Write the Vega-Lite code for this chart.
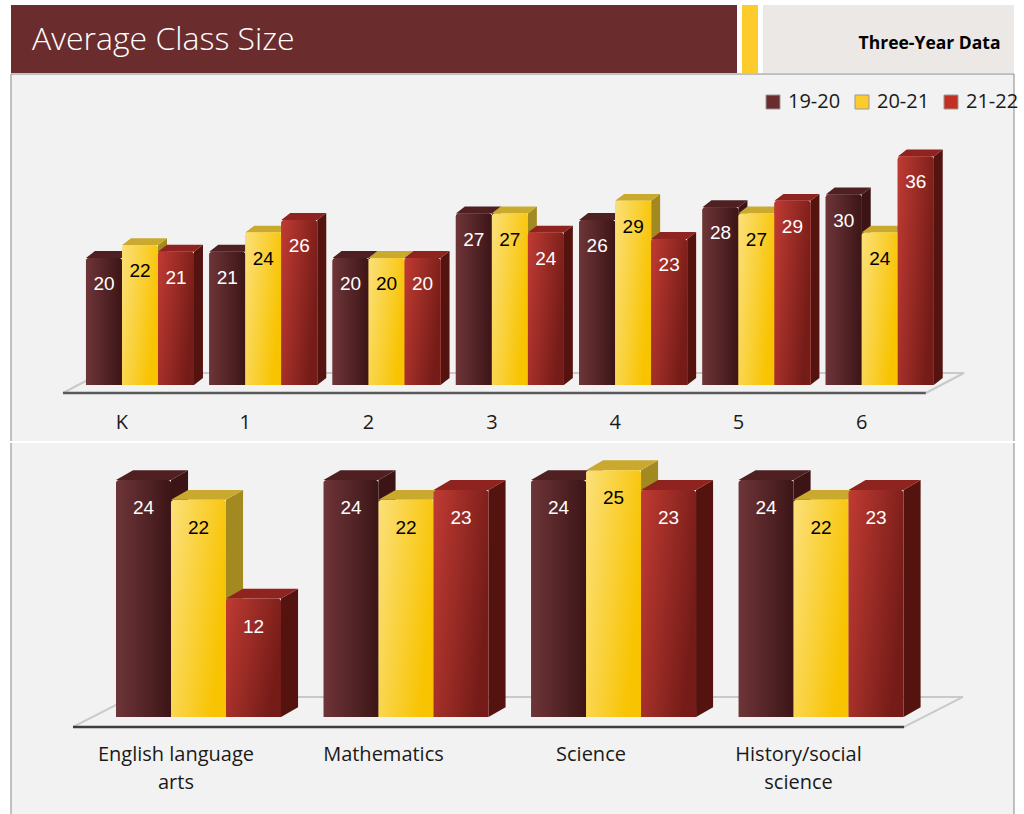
{
  "$schema": "https://vega.github.io/schema/vega-lite/v6.json",
  "background": "#ffffff",
  "padding": {"left": 10, "top": 5, "right": 11, "bottom": 0},
  "spacing": 0,
  "datasets": {
    "grades": [
      {"grade": "K", "year": "19-20", "value": 20}, {"grade": "K", "year": "20-21", "value": 22}, {"grade": "K", "year": "21-22", "value": 21},
      {"grade": "1", "year": "19-20", "value": 21}, {"grade": "1", "year": "20-21", "value": 24}, {"grade": "1", "year": "21-22", "value": 26},
      {"grade": "2", "year": "19-20", "value": 20}, {"grade": "2", "year": "20-21", "value": 20}, {"grade": "2", "year": "21-22", "value": 20},
      {"grade": "3", "year": "19-20", "value": 27}, {"grade": "3", "year": "20-21", "value": 27}, {"grade": "3", "year": "21-22", "value": 24},
      {"grade": "4", "year": "19-20", "value": 26}, {"grade": "4", "year": "20-21", "value": 29}, {"grade": "4", "year": "21-22", "value": 23},
      {"grade": "5", "year": "19-20", "value": 28}, {"grade": "5", "year": "20-21", "value": 27}, {"grade": "5", "year": "21-22", "value": 29},
      {"grade": "6", "year": "19-20", "value": 30}, {"grade": "6", "year": "20-21", "value": 24}, {"grade": "6", "year": "21-22", "value": 36}
    ],
    "subjects": [
      {"subject": "English language\narts", "year": "19-20", "value": 24}, {"subject": "English language\narts", "year": "20-21", "value": 22}, {"subject": "English language\narts", "year": "21-22", "value": 12},
      {"subject": "Mathematics", "year": "19-20", "value": 24}, {"subject": "Mathematics", "year": "20-21", "value": 22}, {"subject": "Mathematics", "year": "21-22", "value": 23},
      {"subject": "Science", "year": "19-20", "value": 24}, {"subject": "Science", "year": "20-21", "value": 25}, {"subject": "Science", "year": "21-22", "value": 23},
      {"subject": "History/social\nscience", "year": "19-20", "value": 24}, {"subject": "History/social\nscience", "year": "20-21", "value": 22}, {"subject": "History/social\nscience", "year": "21-22", "value": 23}
    ]
  },
  "vconcat": [
    {
      "hconcat": [
        {
          "width": 726, "height": 68,
          "view": {"fill": "#6b2c2e", "stroke": null},
          "data": {"values": [{"heading": "Average Class Size"}]},
          "mark": {"type": "text", "align": "left", "baseline": "middle", "dx": -342, "dy": 1, "color": "#ffffff", "font": "Open Sans", "fontWeight": 300, "fontSize": 32},
          "encoding": {"text": {"field": "heading"}}
        },
        {
          "width": 16, "height": 68,
          "view": {"fill": "#fdcb2c", "stroke": null},
          "data": {"values": [{"heading": ""}]},
          "mark": {"type": "text"},
          "encoding": {"text": {"field": "heading"}}
        },
        {
          "width": 251, "height": 68,
          "view": {"fill": "#ebe8e5", "stroke": null},
          "data": {"values": [{"heading": "Three-Year Data"}]},
          "mark": {"type": "text", "align": "right", "baseline": "middle", "dx": 112, "dy": 5, "color": "#000000", "font": "Open Sans", "fontWeight": "bold", "fontSize": 17.5},
          "encoding": {"text": {"field": "heading"}}
        }
      ],
      "spacing": 5,
      "bounds": "flush"
    },
    {
      "width": 1003, "height": 367,
      "view": {"fill": "#f2f2f2", "stroke": null},
      "data": {"name": "grades"},
      "transform": [
        {"calculate": "indexof(['K','1','2','3','4','5','6'], datum.grade)", "as": "slot"},
        {"calculate": "indexof(['19-20','20-21','21-22'], datum.year)", "as": "series"},
        {"calculate": "datum.slot * 3.425 + datum.series", "as": "left"},
        {"calculate": "datum.left + 1", "as": "right"},
        {"calculate": "datum.left + 0.5", "as": "centre"},
        {"calculate": "datum.slot * 3.425 + 1", "as": "tick"}
      ],
      "encoding": {
        "x": {"type": "quantitative", "scale": {"domain": [-2.083, 25.78], "nice": false, "zero": false}, "axis": null},
        "y": {"type": "quantitative", "scale": {"domain": [-8.82, 48.98], "nice": false, "zero": false}, "axis": null}
      },
      "layer": [
        {"mark": {"type": "rule", "color": "#888888", "strokeWidth": 1}, "data": {"values": [{}]}, "encoding": {"x": {"datum": -2.083}, "y": {"datum": -8.82}, "y2": {"datum": 48.98}}},
        {"mark": {"type": "rule", "color": "#888888", "strokeWidth": 1}, "data": {"values": [{}]}, "encoding": {"x": {"datum": 25.78}, "y": {"datum": -8.82}, "y2": {"datum": 48.98}}},
        {"mark": {"type": "rule", "color": "#888888", "strokeWidth": 1}, "data": {"values": [{}]}, "encoding": {"x": {"datum": -2.083}, "x2": {"datum": 25.78}, "y": {"datum": 48.98}}},
        {"mark": {"type": "rule", "color": "#c9c9c9", "strokeWidth": 2}, "data": {"values": [{}]}, "encoding": {"x": {"datum": 0.417}, "x2": {"datum": 24.39}, "y": {"datum": 1.89}, "y2": {"datum": 1.89}}},
        {"mark": {"type": "rule", "color": "#c9c9c9", "strokeWidth": 2}, "data": {"values": [{}]}, "encoding": {"x": {"datum": -0.639}, "x2": {"datum": 0.417}, "y": {"datum": -1.26}, "y2": {"datum": 1.89}}},
        {"mark": {"type": "rule", "color": "#c9c9c9", "strokeWidth": 2}, "data": {"values": [{}]}, "encoding": {"x": {"datum": 23.33}, "x2": {"datum": 24.39}, "y": {"datum": -1.26}, "y2": {"datum": 1.89}}},
        {"mark": {"type": "rule", "color": "#5a5a5a", "strokeWidth": 2.5}, "data": {"values": [{}]}, "encoding": {"x": {"datum": -0.639}, "x2": {"datum": 23.33}, "y": {"datum": -1.26}, "y2": {"datum": -1.26}}},
        {
          "transform": [
            {"calculate": "['side','top']", "as": "face"},
            {"flatten": ["face"]},
            {"calculate": "[0,1,2,3]", "as": "corner"},
            {"flatten": ["corner"]},
            {"calculate": "datum.face === 'side' ? datum.right + [0,0.25,0.25,0][datum.corner] : datum.left + [0,0.25,1.25,1][datum.corner]", "as": "px"},
            {"calculate": "datum.face === 'side' ? [0,1.1,datum.value+1.1,datum.value][datum.corner] : [datum.value,datum.value+1.1,datum.value+1.1,datum.value][datum.corner]", "as": "py"},
            {"calculate": "datum.face + ' ' + datum.year", "as": "paint"},
            {"calculate": "datum.grade + datum.year + datum.face", "as": "polygon"}
          ],
          "mark": {"type": "line", "strokeWidth": 0, "interpolate": "linear"},
          "encoding": {
            "x": {"field": "px", "type": "quantitative"},
            "y": {"field": "py", "type": "quantitative"},
            "detail": {"field": "polygon"},
            "order": {"field": "corner"},
            "fill": {"field": "paint", "scale": {"domain": ["side 19-20", "side 20-21", "side 21-22", "top 19-20", "top 20-21", "top 21-22"], "range": ["#3d1416", "#a38a20", "#551310", "#4f2022", "#c9a92e", "#8f2320"]}, "legend": null}
          }
        },
        {
          "mark": {"type": "rect", "cornerRadiusTopLeft": 3, "cornerRadiusTopRight": 3},
          "encoding": {
            "x": {"field": "left", "type": "quantitative"},
            "x2": {"field": "right"},
            "y": {"field": "value", "type": "quantitative"},
            "y2": {"datum": 0},
            "color": {
              "field": "year", "type": "nominal",
              "scale": {"domain": ["19-20", "20-21", "21-22"], "range": ["#6b2c2e", "#fdcb2c", "#c23023"]},
              "legend": {"title": null, "orient": "none", "legendX": 752, "legendY": 18, "direction": "horizontal", "symbolType": "square", "symbolSize": 196, "symbolStrokeColor": "#999999", "symbolStrokeWidth": 1, "symbolOpacity": 1, "labelFont": "Open Sans", "labelFontSize": 20, "labelColor": "#1a1a1a", "columnPadding": 11, "labelOffset": 5, "padding": 0, "columns": 3}
            }
          }
        },
        {
          "transform": [{"filter": "datum.year === '19-20'"}],
          "mark": {"type": "rect", "cornerRadiusTopLeft": 3, "cornerRadiusTopRight": 3, "color": {"gradient": "linear", "x1": 0, "y1": 0, "x2": 1, "y2": 0, "stops": [{"offset": 0, "color": "#6e3538"}, {"offset": 1, "color": "#3c1517"}]}},
          "encoding": {"x": {"field": "left", "type": "quantitative"}, "x2": {"field": "right"}, "y": {"field": "value", "type": "quantitative"}, "y2": {"datum": 0}}
        },
        {
          "transform": [{"filter": "datum.year === '20-21'"}],
          "mark": {"type": "rect", "cornerRadiusTopLeft": 3, "cornerRadiusTopRight": 3, "color": {"gradient": "linear", "x1": 0, "y1": 0, "x2": 1, "y2": 0.4, "stops": [{"offset": 0, "color": "#fbe07a"}, {"offset": 1, "color": "#f8c300"}]}},
          "encoding": {"x": {"field": "left", "type": "quantitative"}, "x2": {"field": "right"}, "y": {"field": "value", "type": "quantitative"}, "y2": {"datum": 0}}
        },
        {
          "transform": [{"filter": "datum.year === '21-22'"}],
          "mark": {"type": "rect", "cornerRadiusTopLeft": 3, "cornerRadiusTopRight": 3, "color": {"gradient": "linear", "x1": 0, "y1": 0, "x2": 1, "y2": 0.4, "stops": [{"offset": 0, "color": "#c03b33"}, {"offset": 1, "color": "#761c18"}]}},
          "encoding": {"x": {"field": "left", "type": "quantitative"}, "x2": {"field": "right"}, "y": {"field": "value", "type": "quantitative"}, "y2": {"datum": 0}}
        },
        {
          "mark": {"type": "text", "baseline": "middle", "dy": 26, "font": "Liberation Sans", "fontSize": 19},
          "encoding": {
            "x": {"field": "centre", "type": "quantitative"},
            "y": {"field": "value", "type": "quantitative"},
            "text": {"field": "value"},
            "fill": {"condition": {"test": "datum.year === '20-21'", "value": "#000000"}, "value": "#ffffff"}
          }
        },
        {
          "transform": [{"filter": "datum.year === '19-20'"}],
          "mark": {"type": "text", "baseline": "middle", "font": "Open Sans", "fontSize": 20, "color": "#1a1a1a"},
          "encoding": {
            "x": {"field": "tick", "type": "quantitative"},
            "y": {"datum": -6},
            "text": {"field": "grade"}
          }
        }
      ],
      "resolve": {"scale": {"color": "independent"}}
    },
    {
      "width": 1003, "height": 374,
      "view": {"fill": "#f2f2f2", "stroke": null},
      "data": {"name": "subjects"},
      "transform": [
        {"calculate": "indexof(['English language\\narts','Mathematics','Science','History/social\\nscience'], datum.subject)", "as": "slot"},
        {"calculate": "indexof(['19-20','20-21','21-22'], datum.year)", "as": "series"},
        {"calculate": "datum.slot * 3.773 + datum.series", "as": "left"},
        {"calculate": "datum.left + 1", "as": "right"},
        {"calculate": "datum.left + 0.5", "as": "centre"},
        {"calculate": "datum.slot * 3.773 + 1.09", "as": "tick"}
      ],
      "encoding": {
        "x": {"type": "quantitative", "scale": {"domain": [-1.909, 16.327], "nice": false, "zero": false}, "axis": null},
        "y": {"type": "quantitative", "scale": {"domain": [-10.13, 27.76], "nice": false, "zero": false}, "axis": null}
      },
      "layer": [
        {"mark": {"type": "rule", "color": "#888888", "strokeWidth": 1}, "data": {"values": [{}]}, "encoding": {"x": {"datum": -1.909}, "y": {"datum": -10.13}, "y2": {"datum": 27.76}}},
        {"mark": {"type": "rule", "color": "#888888", "strokeWidth": 1}, "data": {"values": [{}]}, "encoding": {"x": {"datum": 16.327}, "y": {"datum": -10.13}, "y2": {"datum": 27.76}}},
        {"mark": {"type": "rule", "color": "#c9c9c9", "strokeWidth": 2}, "data": {"values": [{}]}, "encoding": {"x": {"datum": 0.29}, "x2": {"datum": 15.4}, "y": {"datum": 2.03}, "y2": {"datum": 2.03}}},
        {"mark": {"type": "rule", "color": "#c9c9c9", "strokeWidth": 2}, "data": {"values": [{}]}, "encoding": {"x": {"datum": -0.782}, "x2": {"datum": 0.29}, "y": {"datum": -1.01}, "y2": {"datum": 2.03}}},
        {"mark": {"type": "rule", "color": "#c9c9c9", "strokeWidth": 2}, "data": {"values": [{}]}, "encoding": {"x": {"datum": 14.33}, "x2": {"datum": 15.4}, "y": {"datum": -1.01}, "y2": {"datum": 2.03}}},
        {"mark": {"type": "rule", "color": "#3d3d3d", "strokeWidth": 2.5}, "data": {"values": [{}]}, "encoding": {"x": {"datum": -0.782}, "x2": {"datum": 14.33}, "y": {"datum": -1.01}, "y2": {"datum": -1.01}}},
        {
          "transform": [
            {"calculate": "['side','top']", "as": "face"},
            {"flatten": ["face"]},
            {"calculate": "[0,1,2,3]", "as": "corner"},
            {"flatten": ["corner"]},
            {"calculate": "datum.face === 'side' ? datum.right + [0,0.31,0.31,0][datum.corner] : datum.left + [0,0.31,1.31,1][datum.corner]", "as": "px"},
            {"calculate": "datum.face === 'side' ? [0,1,datum.value+1,datum.value][datum.corner] : [datum.value,datum.value+1,datum.value+1,datum.value][datum.corner]", "as": "py"},
            {"calculate": "datum.face + ' ' + datum.year", "as": "paint"},
            {"calculate": "datum.subject + datum.year + datum.face", "as": "polygon"}
          ],
          "mark": {"type": "line", "strokeWidth": 0, "interpolate": "linear"},
          "encoding": {
            "x": {"field": "px", "type": "quantitative"},
            "y": {"field": "py", "type": "quantitative"},
            "detail": {"field": "polygon"},
            "order": {"field": "corner"},
            "fill": {"field": "paint", "scale": {"domain": ["side 19-20", "side 20-21", "side 21-22", "top 19-20", "top 20-21", "top 21-22"], "range": ["#3d1416", "#a38a20", "#551310", "#4f2022", "#c9a92e", "#8f2320"]}, "legend": null}
          }
        },
        {
          "transform": [{"filter": "datum.year === '19-20'"}],
          "mark": {"type": "rect", "cornerRadiusTopLeft": 3, "cornerRadiusTopRight": 3, "color": {"gradient": "linear", "x1": 0, "y1": 0, "x2": 1, "y2": 0, "stops": [{"offset": 0, "color": "#6e3538"}, {"offset": 1, "color": "#3c1517"}]}},
          "encoding": {"x": {"field": "left", "type": "quantitative"}, "x2": {"field": "right"}, "y": {"field": "value", "type": "quantitative"}, "y2": {"datum": 0}}
        },
        {
          "transform": [{"filter": "datum.year === '20-21'"}],
          "mark": {"type": "rect", "cornerRadiusTopLeft": 3, "cornerRadiusTopRight": 3, "color": {"gradient": "linear", "x1": 0, "y1": 0, "x2": 1, "y2": 0.4, "stops": [{"offset": 0, "color": "#fbe07a"}, {"offset": 1, "color": "#f8c300"}]}},
          "encoding": {"x": {"field": "left", "type": "quantitative"}, "x2": {"field": "right"}, "y": {"field": "value", "type": "quantitative"}, "y2": {"datum": 0}}
        },
        {
          "transform": [{"filter": "datum.year === '21-22'"}],
          "mark": {"type": "rect", "cornerRadiusTopLeft": 3, "cornerRadiusTopRight": 3, "color": {"gradient": "linear", "x1": 0, "y1": 0, "x2": 1, "y2": 0.4, "stops": [{"offset": 0, "color": "#c03b33"}, {"offset": 1, "color": "#761c18"}]}},
          "encoding": {"x": {"field": "left", "type": "quantitative"}, "x2": {"field": "right"}, "y": {"field": "value", "type": "quantitative"}, "y2": {"datum": 0}}
        },
        {
          "mark": {"type": "text", "baseline": "middle", "dy": 28, "font": "Liberation Sans", "fontSize": 19},
          "encoding": {
            "x": {"field": "centre", "type": "quantitative"},
            "y": {"field": "value", "type": "quantitative"},
            "text": {"field": "value"},
            "fill": {"condition": {"test": "datum.year === '20-21'", "value": "#000000"}, "value": "#ffffff"}
          }
        },
        {
          "transform": [{"filter": "datum.year === '19-20'"}],
          "mark": {"type": "text", "baseline": "top", "lineBreak": "\n", "lineHeight": 28, "font": "Open Sans", "fontSize": 20, "color": "#1a1a1a"},
          "encoding": {
            "x": {"field": "tick", "type": "quantitative"},
            "y": {"datum": -2.84},
            "text": {"field": "subject"}
          }
        }
      ]
    }
  ],
  "config": {"view": {"stroke": null}}
}
